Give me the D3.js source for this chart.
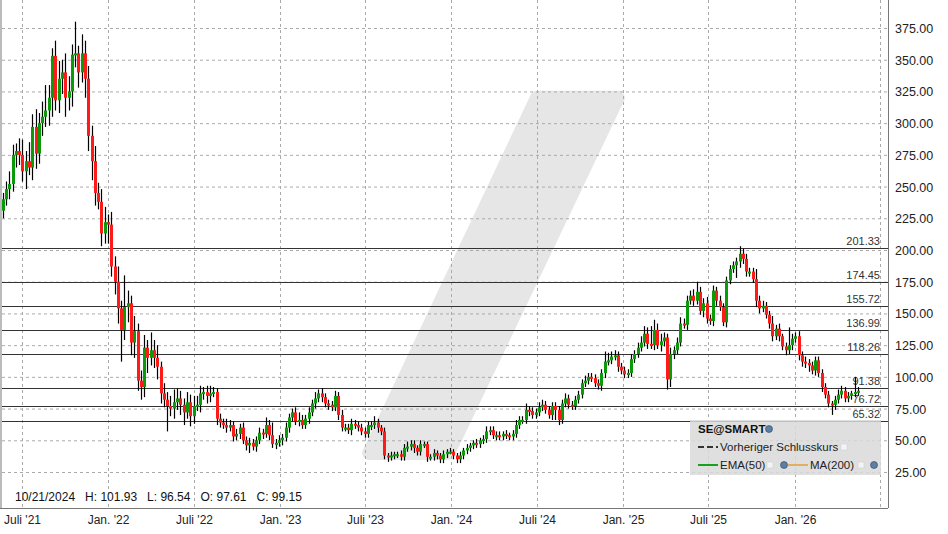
<!DOCTYPE html>
<html><head><meta charset="utf-8">
<script src="https://cdn.jsdelivr.net/npm/d3@7/dist/d3.min.js"></script>
<style>body{margin:0;background:#fff}svg{display:block;font-family:"Liberation Sans",Arial,sans-serif}</style>
</head><body><svg id="c" width="948" height="534"></svg>
<script>
const closes = [
240,248,252,275,278,275,262,270,265,297,276,300,305,310,320,353,318,335,340,320,325,354,355,340,355,335,290,270,245,
238,213,222,220,187,175,154,137,155,158,127,136,97,92,123,115,121,115,108,87,82,77,75,80,83,78,72,80,69,77,78,87,88,85,87,88,67,64,62,
60,62,53,55,60,50,46,48,45,50,56,55,62,54,47,48,50,52,60,68,72,65,66,62,67,72,79,83,87,84,79,78,76,85,70,60,60,
58,63,62,60,57,55,62,62,64,60,57,38,37,38,39,39,37,44,45,47,44,41,47,47,37,37,40,38,35,39,41,41,38,35,38,42,44,46,48,
47,50,51,57,58,54,54,53,55,54,53,55,62,66,66,74,73,70,72,76,78,74,70,77,74,
66,79,83,78,77,82,86,95,97,100,99,95,93,103,112,113,116,117,108,105,102,103,114,118,123,127,134,126,125,
137,125,128,131,98,118,121,127,142,141,160,164,160,167,152,158,146,144,168,160,155,143,176,185,188,191,197,193,183,
183,177,160,154,156,149,142,132,138,132,124,121,125,130,132,117,112,111,109,105,113,103,92,86,79,78,82,86,89,83,85,87,88,89];
const firstOpen = 231;
const hiExt = [
5,6,10,8,6,10,12,8,15,10,14,8,12,20,10,6,12,14,10,15,12,8,25,6,15,10,10,8,12,
8,10,12,6,10,8,12,6,25,10,6,12,6,8,10,6,14,8,10,4,8,6,8,10,8,6,5,8,6,8,7,6,4,5,6,4,3,4,3,
5,4,3,4,3,4,3,4,3,3,4,3,6,4,10,3,4,3,4,3,3,4,6,4,3,4,3,5,3,4,3,3,3,4,3,4,3,
3,4,3,3,3,3,3,3,5,3,2,3,2,3,2,2,3,3,4,3,3,2,3,2,2,2,3,2,2,3,2,3,2,2,3,2,3,2,2,
3,2,3,4,3,3,3,3,2,3,2,3,4,3,3,5,3,3,3,4,4,3,3,3,3,
3,3,4,3,3,3,3,3,4,3,3,3,3,3,8,6,4,4,3,3,3,3,4,3,4,5,6,5,14,
8,5,6,4,3,5,3,4,5,4,4,4,5,8,4,4,5,3,4,3,4,3,3,3,3,3,6,4,4,
3,3,8,4,4,3,3,6,3,4,2,3,14,4,3,4,3,4,3,3,3,3,3,3,3,2,3,4,4,3,3,2,12,3];
const loExt = [
6,5,8,6,10,8,8,14,6,10,12,8,10,8,12,15,8,10,12,15,10,12,10,12,8,15,12,15,10,
6,10,8,15,8,10,12,25,8,12,10,12,8,10,8,12,6,8,10,8,6,20,6,8,6,8,10,5,8,6,4,6,5,6,5,3,5,4,3,
4,3,4,3,4,3,4,6,3,4,3,4,3,4,3,4,3,4,3,4,3,3,4,3,3,4,3,4,3,4,3,4,3,3,4,3,3,
3,4,3,3,3,3,3,4,3,4,3,3,4,3,3,3,3,3,3,3,4,3,3,3,4,3,3,3,3,3,3,2,3,3,3,3,3,3,3,
3,3,3,3,3,3,4,3,3,3,3,3,3,3,3,3,4,3,3,3,3,3,3,4,8,
4,3,3,3,3,3,3,3,3,3,3,3,3,4,4,3,3,3,4,3,3,3,3,3,3,3,3,4,3,
4,3,5,4,8,6,4,3,3,3,4,3,4,3,3,5,4,3,4,4,3,3,4,3,3,10,5,4,4,
4,3,5,4,3,3,4,4,3,4,3,4,3,4,3,4,4,4,5,3,4,3,4,3,3,8,4,3,3,3,3,3,3,3];
const startDate = new Date(2021,4,21);
const yTicks = [25,50,75,100,125,150,175,200,225,250,275,300,325,350,375];
const levels = [201.33,174.45,155.72,136.99,118.26,91.38,76.72,65.32];
const xTicks = [[2021,6,"Juli '21"],[2022,0,"Jan. '22"],[2022,6,"Juli '22"],[2023,0,"Jan. '23"],[2023,6,"Juli '23"],[2024,0,"Jan. '24"],[2024,6,"Juli '24"],[2025,0,"Jan. '25"],[2025,6,"Juli '25"],[2026,0,"Jan. '26"],[2026,6,""]];
const infoText = "10/21/2024   H: 101.93   L: 96.54   O: 97.61   C: 99.15";

const svg = d3.select("#c");
const W=888, H=508;
const x = d3.scaleTime().domain([new Date(2021,6,1), new Date(2026,6,1)]).range([22,880]);
const y = d3.scaleLinear().domain([25,375]).range([472,28]);

// watermark
svg.append("path").attr("d",`M${x(new Date(2023,6,10))},${y(40)} L${x(new Date(2024,6,1))},${y(320)} L${x(new Date(2024,11,20))},${y(320)} L${x(new Date(2023,11,25))},${y(40)} Z`)
  .attr("fill","#e6e6e6").attr("stroke","#e6e6e6").attr("stroke-width",14).attr("stroke-linejoin","round");

const g = svg.append("g");
yTicks.forEach(v=>g.append("line").attr("x1",2).attr("x2",W).attr("y1",y(v)+0.5).attr("y2",y(v)+0.5).attr("stroke","#aaa").attr("stroke-dasharray","3,3"));
xTicks.forEach(t=>{const xx=Math.round(x(new Date(t[0],t[1],1)))+0.5;
  g.append("line").attr("x1",xx).attr("x2",xx).attr("y1",0).attr("y2",H).attr("stroke","#aaa").attr("stroke-dasharray","3,3");
  if(t[2]) svg.append("text").attr("x",xx).attr("y",524).attr("text-anchor","middle").attr("font-size",12).attr("fill","#222").text(t[2]);});

levels.forEach(v=>{g.append("line").attr("x1",2).attr("x2",W).attr("y1",Math.round(y(v))+0.5).attr("y2",Math.round(y(v))+0.5).attr("stroke","#333").attr("stroke-width",1);
  g.append("text").attr("x",880).attr("y",y(v)-3).attr("text-anchor","end").attr("font-size",11).attr("fill","#333").text(v.toFixed(2));});

const cg = svg.append("g");
closes.forEach((c,i)=>{
  const o = i===0?firstOpen:closes[i-1];
  const d = new Date(startDate.getTime()+i*7*864e5);
  const xx = Math.round(x(d));
  const hi = Math.max(o,c)+(hiExt[i]||3), lo = Math.min(o,c)-(loExt[i]||3);
  cg.append("line").attr("x1",xx+0.5).attr("x2",xx+0.5).attr("y1",y(hi)).attr("y2",y(lo)).attr("stroke","#000").attr("stroke-width",1.2);
  const top=y(Math.max(o,c)), bot=y(Math.min(o,c));
  cg.append("rect").attr("x",xx-1).attr("width",3).attr("y",top).attr("height",Math.max(2,bot-top)).attr("fill",c>=o?"#0a9a0a":"#ff1a1a");
});

svg.append("line").attr("x1",1).attr("x2",1).attr("y1",0).attr("y2",H).attr("stroke","#bbb").attr("stroke-width",2);
svg.append("line").attr("x1",W+0.5).attr("x2",W+0.5).attr("y1",0).attr("y2",H).attr("stroke","#777");
svg.append("line").attr("x1",0).attr("x2",W).attr("y1",H+0.5).attr("y2",H+0.5).attr("stroke","#777");
yTicks.forEach(v=>svg.append("text").attr("x",895).attr("y",y(v)+5).attr("font-size",12.5).attr("fill","#222").text(v.toFixed(2)));

svg.append("text").attr("x",15).attr("y",501).attr("font-size",12).attr("fill","#111").attr("xml:space","preserve").text(infoText);

const lg = svg.append("g");
lg.append("rect").attr("x",690).attr("y",420).attr("width",191).attr("height",55).attr("fill","#d9d9d9").attr("opacity",0.85);
lg.append("text").attr("x",698).attr("y",433).attr("font-size",11.5).attr("font-weight","bold").attr("fill","#111").text("SE@SMART");
function globe(cx,cy){lg.append("circle").attr("cx",cx).attr("cy",cy).attr("r",3.5).attr("fill","#5a7fa8").attr("stroke","#345").attr("stroke-width",0.6);}
function box(cx,cy){lg.append("rect").attr("x",cx-3).attr("y",cy-3).attr("width",6).attr("height",6).attr("fill","#f4f4f8").attr("stroke","#ccc").attr("stroke-width",0.5);}
globe(769,429);
lg.append("line").attr("x1",698).attr("x2",718).attr("y1",447).attr("y2",447).attr("stroke","#333").attr("stroke-width",2).attr("stroke-dasharray","6,3");
lg.append("text").attr("x",720).attr("y",451).attr("font-size",11.5).attr("fill","#222").text("Vorheriger Schlusskurs");
box(844,447);
lg.append("line").attr("x1",698).attr("x2",718).attr("y1",465).attr("y2",465).attr("stroke","#1aa11a").attr("stroke-width",2);
lg.append("text").attr("x",720).attr("y",469).attr("font-size",11.5).attr("fill","#222").text("EMA(50)");
box(770,465); globe(784,465);
lg.append("line").attr("x1",788).attr("x2",808).attr("y1",465).attr("y2",465).attr("stroke","#e0b060").attr("stroke-width",2);
lg.append("text").attr("x",810).attr("y",469).attr("font-size",11.5).attr("fill","#222").text("MA(200)");
box(861,465); globe(874,465);
</script></body></html>
